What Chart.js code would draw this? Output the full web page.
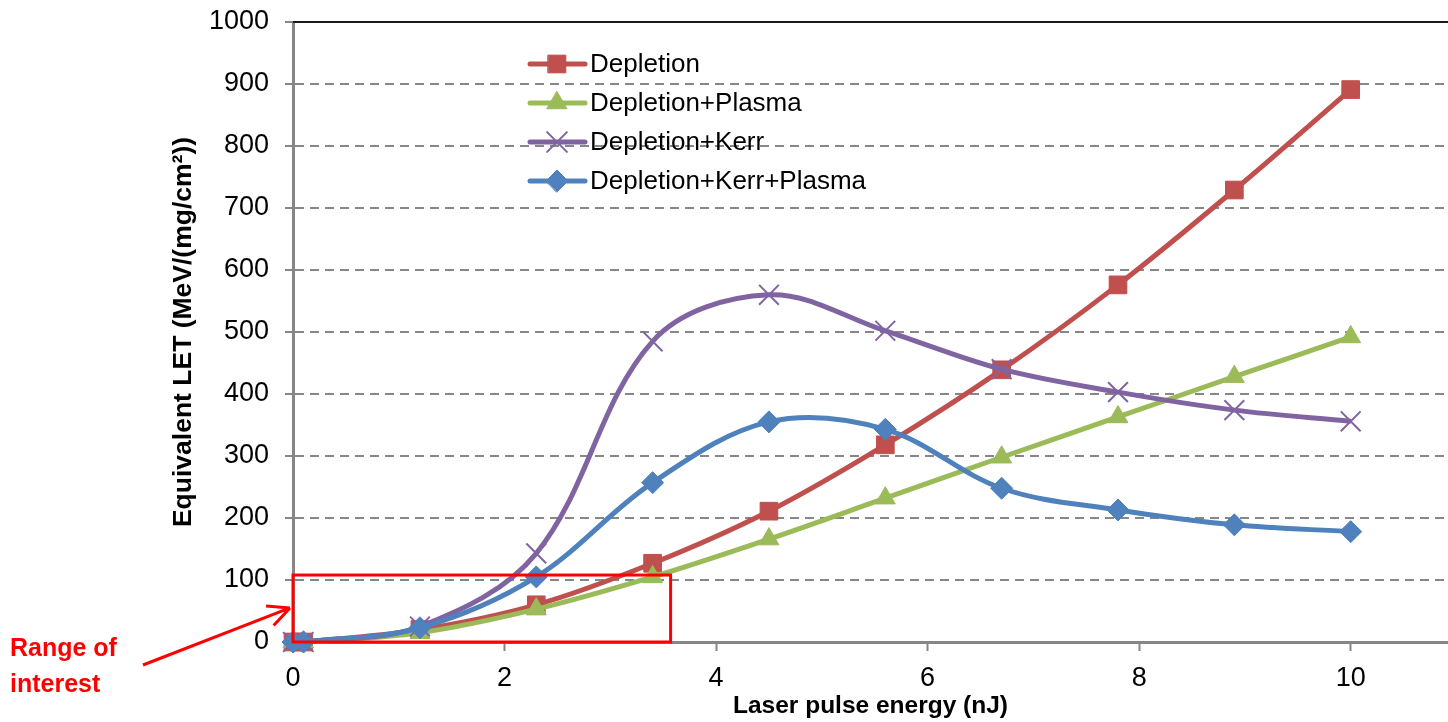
<!DOCTYPE html>
<html>
<head>
<meta charset="utf-8">
<script src="https://cdn.jsdelivr.net/npm/chart.js@4"></script>
<style>
  html, body { margin: 0; padding: 0; background: #fff; }
</style>
</head>
<body>
<canvas id="myChart" width="1448" height="722"></canvas>
<script>
// values
const energy = [0, 0.1, 1.2, 2.3, 3.4, 4.5, 5.6, 6.7, 7.8, 8.9, 10];
const depletion = [0, 0, 20, 60, 127, 211, 318, 439, 576, 729, 891];
const depletionPlasma = [0, 0, 15, 53, 105, 166, 232, 298, 363, 428, 492];
const depletionKerr = [0, 0, 25, 143, 485, 560, 502, 440, 403, 374, 356];
const depletionKerrPlasma = [0, 0, 23, 105, 257, 355, 343, 248, 213, 189, 178];
const xTicks = [0, 2, 4, 6, 8, 10];
const seriesNames = ['Depletion', 'Depletion+Plasma', 'Depletion+Kerr', 'Depletion+Kerr+Plasma'];

Chart.defaults.font.family = "'Liberation Sans', Arial, sans-serif";
Chart.defaults.color = '#000';

function pts(ys) {
  return energy.map((x, i) => ({ x: x, y: ys[i] }));
}

const styles = [
  { color: '#C0504D', point: 'rect', r: 12.5, pw: 1 },
  { color: '#9BBB59', point: 'triangle', r: 11.5, pw: 1 },
  { color: '#8064A2', point: 'crossRot', r: 14, pw: 2 },
  { color: '#4F81BD', point: 'rectRot', r: 11, pw: 1 }
];
const allSeries = [depletion, depletionPlasma, depletionKerr, depletionKerrPlasma];

const datasets = allSeries.map((ys, i) => ({
  label: seriesNames[i],
  data: pts(ys),
  borderColor: styles[i].color,
  backgroundColor: styles[i].color,
  borderWidth: 5,
  pointStyle: styles[i].point,
  pointRadius: styles[i].r,
  pointBorderWidth: styles[i].pw,
  pointBorderColor: styles[i].color,
  pointBackgroundColor: styles[i].color,
  tension: 0.35,
  clip: false,
  order: 4 - i
}));

const extras = {
  id: 'extras',
  afterDatasetsDraw(chart) {
    const { ctx, chartArea, scales } = chart;
    const xs = scales.x, ys = scales.y;
    ctx.save();

    // top border line at 1000
    ctx.strokeStyle = '#1a1a1a';
    ctx.lineWidth = 2;
    ctx.beginPath();
    const yt = ys.getPixelForValue(1000);
    ctx.moveTo(chartArea.left, yt);
    ctx.lineTo(chartArea.right, yt);
    ctx.stroke();

    // range of interest box
    ctx.strokeStyle = '#FF0000';
    ctx.lineWidth = 3;
    const x0 = xs.getPixelForValue(0), x1 = xs.getPixelForValue(3.57);
    const y0 = ys.getPixelForValue(0), y1 = ys.getPixelForValue(108);
    ctx.strokeRect(x0, y1, x1 - x0, y0 - y1);

    // arrow
    const tipX = x0 - 3, tipY = ys.getPixelForValue(55);
    const tailX = 143, tailY = 665;
    ctx.beginPath();
    ctx.moveTo(tailX, tailY);
    ctx.lineTo(tipX, tipY);
    const ang = Math.atan2(tipY - tailY, tipX - tailX);
    const hl = 24;
    ctx.moveTo(tipX, tipY);
    ctx.lineTo(tipX - hl * Math.cos(ang - 0.45), tipY - hl * Math.sin(ang - 0.45));
    ctx.moveTo(tipX, tipY);
    ctx.lineTo(tipX - hl * Math.cos(ang + 0.45), tipY - hl * Math.sin(ang + 0.45));
    ctx.stroke();

    ctx.fillStyle = '#FF0000';
    ctx.font = "bold 25px 'Liberation Sans', Arial, sans-serif";
    ctx.textAlign = 'left';
    ctx.textBaseline = 'middle';
    ctx.fillText('Range of', 10, 649);
    ctx.fillText('interest', 10, 685);

    // legend
    const lx = 530, ly = 64, step = 39;
    chart.data.datasets.forEach((ds, i) => {
      const y = ly + i * step;
      ctx.strokeStyle = ds.borderColor;
      ctx.lineWidth = 5;
      ctx.lineCap = 'round';
      ctx.beginPath();
      ctx.moveTo(lx, y);
      ctx.lineTo(lx + 55, y);
      ctx.stroke();
      ctx.fillStyle = ds.borderColor;
      ctx.lineWidth = ds.pointBorderWidth;
      Chart.helpers.drawPoint(ctx, { pointStyle: ds.pointStyle, radius: ds.pointRadius, rotation: 0, borderWidth: ds.pointBorderWidth }, lx + 27, y);
      ctx.fillStyle = '#000';
      ctx.font = "26px 'Liberation Sans', Arial, sans-serif";
      ctx.textAlign = 'left';
      ctx.textBaseline = 'middle';
      ctx.fillText(ds.label, lx + 60, y + 1);
    });
    ctx.restore();
  }
};

const chart = new Chart(document.getElementById('myChart'), {
  type: 'line',
  data: { datasets: datasets },
  options: {
    responsive: false,
    animation: false,
    devicePixelRatio: 1,
    layout: { autoPadding: false, padding: { left: 168, top: 22, right: 0, bottom: 0 } },
    plugins: { legend: { display: false }, tooltip: { enabled: false } },
    scales: {
      x: {
        type: 'linear',
        min: 0,
        max: 10.92,
        afterBuildTicks: (axis) => { axis.ticks = xTicks.map(v => ({ value: v })); },
        afterFit: (axis) => { axis.height = 80; axis.paddingLeft = 0; axis.paddingRight = 0; },
        grid: { drawOnChartArea: false, tickLength: 9, tickColor: '#868686', tickWidth: 2 },
        border: { color: '#868686', width: 3 },
        ticks: { font: { size: 27 }, padding: 11, maxRotation: 0, color: '#000' },
        title: { display: true, text: 'Laser pulse energy (nJ)', font: { size: 24.5, weight: 'bold' }, padding: { top: 0, bottom: 1 }, color: '#000' }
      },
      y: {
        min: 0,
        max: 1000,
        afterFit: (axis) => { axis.width = 125; axis.paddingTop = 0; axis.paddingBottom = 0; },
        ticks: { stepSize: 100, font: { size: 27 }, padding: 16, color: '#000', callback: (v) => String(v) },
        grid: {
          color: (c) => (c.tick && (c.tick.value === 1000 || c.tick.value === 0)) ? 'rgba(0,0,0,0)' : '#878787',
          lineWidth: 2,
          tickLength: 8,
          tickColor: '#868686',
          tickWidth: 2,
          tickBorderDash: []
        },
        border: { color: '#868686', width: 3, dash: [9, 6] },
        title: { display: true, text: 'Equivalent LET (MeV/(mg/cm²))', font: { size: 26.5, weight: 'bold' }, padding: { top: 0, bottom: 0 }, color: '#000' }
      }
    }
  },
  plugins: [extras]
});
</script>
</body>
</html>
